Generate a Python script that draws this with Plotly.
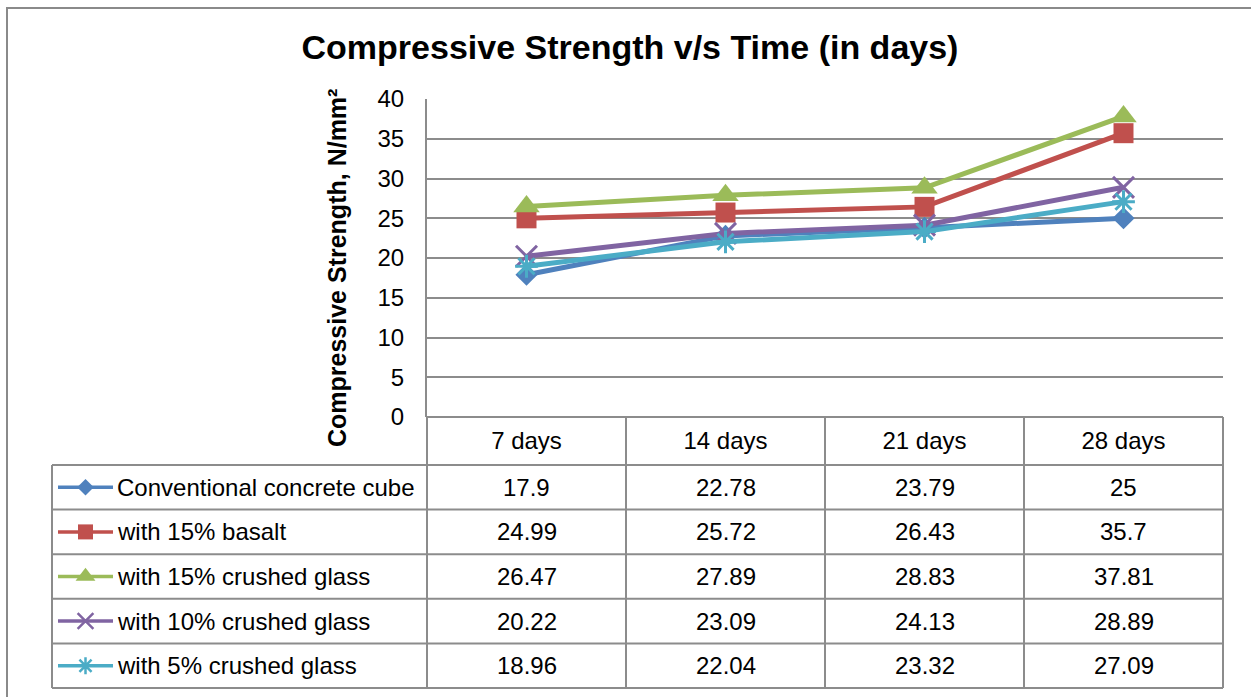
import plotly.graph_objects as go

# ---------------- data ----------------
categories = ["7 days", "14 days", "21 days", "28 days"]
series_names = [
    "Conventional concrete cube",
    "with 15% basalt",
    "with 15% crushed glass",
    "with 10% crushed glass",
    "with 5% crushed glass",
]
conventional = [17.9, 22.78, 23.79, 25]
basalt_15 = [24.99, 25.72, 26.43, 35.7]
glass_15 = [26.47, 27.89, 28.83, 37.81]
glass_10 = [20.22, 23.09, 24.13, 28.89]
glass_5 = [18.96, 22.04, 23.32, 27.09]
y_ticks = [0, 5, 10, 15, 20, 25, 30, 35, 40]

series_values = [conventional, basalt_15, glass_15, glass_10, glass_5]

# ---------------- style ----------------
W, H = 1251, 697
colors = ["#4F81BD", "#C0504D", "#9BBB59", "#8064A2", "#4BACC6"]
symbols = ["diamond", "square", "triangle-up", "x-thin", "asterisk"]
msizes = [17, 20, 23, 21, 19]
mline = [0, 0, 0, 3, 3]
KEY_SCALE = 0.75
GRID = "#8C8C8C"
FONT = "Liberation Sans"


def px(x):
    return x / W


def py(y):
    return 1 - y / H


PLOT_L, PLOT_R, PLOT_T, PLOT_B = 427, 1223, 99, 417
TAB_L = 52
ROW_TOP = 465
ROW_BOT = 688
col_edges = [427, 626, 825, 1024, 1223]
n_rows = len(series_names)
row_h = (ROW_BOT - ROW_TOP) / n_rows
row_edges = [ROW_TOP + i * row_h for i in range(n_rows + 1)]

fig = go.Figure()

for name, vals, c, s, ms, lw in zip(series_names, series_values, colors, symbols, msizes, mline):
    fig.add_trace(go.Scatter(
        x=categories, y=vals, name=name, mode="lines+markers",
        line=dict(color=c, width=5),
        marker=dict(symbol=s, size=ms, color=c, line=dict(color=c, width=lw)),
        xaxis="x", yaxis="y", showlegend=False, cliponaxis=False,
    ))

# legend keys inside the data table
for i, (c, s, ms, lw) in enumerate(zip(colors, symbols, msizes, mline)):
    fig.add_trace(go.Scatter(
        x=[0, 1], y=[i, i], mode="lines", line=dict(color=c, width=3.5),
        xaxis="x2", yaxis="y2", showlegend=False, hoverinfo="skip",
    ))
    fig.add_trace(go.Scatter(
        x=[0.5], y=[i], mode="markers",
        marker=dict(symbol=s, size=ms * KEY_SCALE, color=c, line=dict(color=c, width=max(lw - 0.5, 0))),
        xaxis="x2", yaxis="y2", showlegend=False, hoverinfo="skip", cliponaxis=False,
    ))

shapes = []
line_style = dict(color=GRID, width=2)
# outer frame
shapes.append(dict(type="rect", xref="paper", yref="paper", x0=px(7), x1=px(1262), y0=py(8), y1=py(710),
                   line=dict(color="#8A8A8A", width=2), fillcolor="rgba(0,0,0,0)", layer="below"))
# header row top line
shapes.append(dict(type="line", xref="paper", yref="paper", x0=px(PLOT_L), x1=px(PLOT_R),
                   y0=py(PLOT_B), y1=py(PLOT_B), line=line_style))
# horizontal table lines
for ry in row_edges:
    shapes.append(dict(type="line", xref="paper", yref="paper", x0=px(TAB_L), x1=px(PLOT_R),
                       y0=py(ry), y1=py(ry), line=line_style))
# vertical lines
shapes.append(dict(type="line", xref="paper", yref="paper", x0=px(TAB_L), x1=px(TAB_L),
                   y0=py(ROW_TOP), y1=py(ROW_BOT), line=line_style))
for cx in col_edges:
    shapes.append(dict(type="line", xref="paper", yref="paper", x0=px(cx), x1=px(cx),
                       y0=py(PLOT_B), y1=py(ROW_BOT), line=line_style))

annotations = []
for i, name in enumerate(series_names):
    cy = (row_edges[i] + row_edges[i + 1]) / 2
    annotations.append(dict(text=name, xref="paper", yref="paper", x=px(115), y=py(cy),
                            xanchor="left", yanchor="middle", showarrow=False,
                            font=dict(family=FONT, size=24, color="#000000")))
    for cat, v in zip(categories, series_values[i]):
        annotations.append(dict(text=f"{v:g}", xref="x", yref="paper", x=cat, y=py(cy),
                                xanchor="center", yanchor="middle", showarrow=False,
                                font=dict(family=FONT, size=24, color="#000000")))

annotations.append(dict(text="<b>Compressive Strength, N/mm²</b>", xref="paper", yref="paper",
                        x=px(337), y=py(268), textangle=-90, showarrow=False,
                        xanchor="center", yanchor="middle",
                        font=dict(family=FONT, size=25, color="#000000")))

fig.update_layout(
    template="none",
    width=W, height=H,
    margin=dict(l=0, r=0, t=0, b=0, pad=0, autoexpand=False),
    paper_bgcolor="white", plot_bgcolor="white",
    showlegend=False,
    title=dict(text="<b>Compressive Strength v/s Time (in days)</b>", x=px(630), y=py(47),
               xanchor="center", yanchor="middle", xref="paper", yref="paper",
               font=dict(family=FONT, size=34, color="#000000")),
    xaxis=dict(domain=[px(PLOT_L), px(PLOT_R)], type="category", categoryorder="array",
               categoryarray=categories, range=[-0.5, 3.5], showgrid=False, showline=False,
               zeroline=False, ticks="", ticklabelstandoff=7, automargin=False,
               tickfont=dict(family=FONT, size=24, color="#000000"), fixedrange=True),
    yaxis=dict(domain=[py(PLOT_B), py(PLOT_T)], range=[0, 40], tickvals=y_ticks,
               showgrid=True, gridcolor=GRID, gridwidth=2, zeroline=False, automargin=False,
               showline=True, linecolor=GRID, linewidth=2, ticks="", ticklabelstandoff=16,
               tickfont=dict(family=FONT, size=24, color="#000000"), fixedrange=True),
    xaxis2=dict(domain=[px(58), px(113)], range=[0, 1], visible=False, fixedrange=True,
                automargin=False),
    yaxis2=dict(domain=[py(ROW_BOT), py(ROW_TOP)], range=[n_rows - 0.5, -0.5], visible=False,
                anchor="x2", fixedrange=True, automargin=False),
    shapes=shapes,
    annotations=annotations,
)

fig.write_html("out.html", config={"displayModeBar": False},
               post_script="document.body.style.margin='0';document.body.style.overflow='hidden';")
